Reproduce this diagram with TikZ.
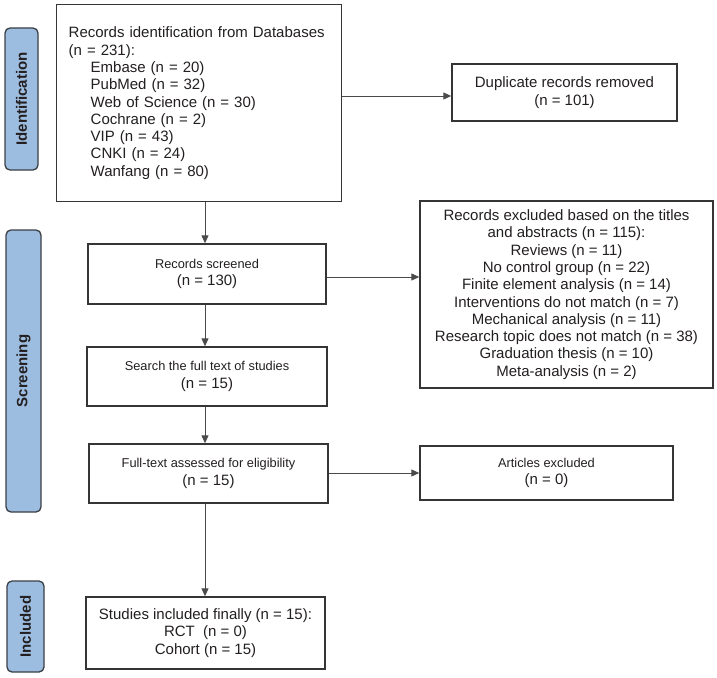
\documentclass[tikz,border=0pt]{standalone}
\usepackage{fontspec}
\setmainfont{Liberation Sans}
\usetikzlibrary{arrows.meta,calc}
\definecolor{lblfill}{HTML}{9DBDE0}
\definecolor{lbldraw}{HTML}{3A3F45}
\definecolor{boxdraw}{HTML}{353535}
\definecolor{txt}{HTML}{231F20}
\definecolor{arrcol}{HTML}{4A4A4A}
\newcommand{\smallfs}{\fontsize{12.8}{15}\selectfont}
\tikzset{
  box/.style={draw=boxdraw, line width=1.4pt, fill=white, inner sep=0pt, align=center, text=txt,
    font=\fontsize{15}{17.3}\selectfont},
  lbl/.style={draw=lbldraw, line width=1.3pt, fill=lblfill, rounded corners=5pt, rotate=90,
    inner sep=0pt, text=txt, font=\fontsize{15}{17}\selectfont\bfseries},
  arr/.style={draw=arrcol, line width=0.9pt, -{Triangle[length=8pt,width=7pt]}}
}
\begin{document}
\begin{tikzpicture}[x=1pt,y=-1pt]
\useasboundingbox (0,0) rectangle (717,677);
% phase labels
\node[lbl, minimum width=142, minimum height=33] (lid) at (21.5,99) {Identification};
\node[lbl, minimum width=282, minimum height=35] (lsc) at (23.5,371) {Screening};
\node[lbl, minimum width=91, minimum height=37] (lin) at (25.5,626.5) {Included};
% main boxes
\node[box, anchor=north west, minimum width=285, minimum height=197, text width=261, align=left, inner xsep=12pt] (ident) at (56,4)
 {Records identification from Databases\\
  (n = 231):\\
  \hspace*{22pt}Embase (n = 20)\\
  \hspace*{22pt}PubMed (n = 32)\\
  \hspace*{22pt}Web of Science (n = 30)\\
  \hspace*{22pt}Cochrane (n = 2)\\
  \hspace*{22pt}VIP (n = 43)\\
  \hspace*{22pt}CNKI (n = 24)\\
  \hspace*{22pt}Wanfang (n = 80)};
\node[box, minimum width=225, minimum height=57] (dup) at (564.5,92.5)
 {Duplicate records removed\\(n = 101)};
\node[box, minimum width=238, minimum height=60] (scr) at (207,274)
 {{\smallfs Records screened}\\(n = 130)};
\node[box, minimum width=240, minimum height=59] (full) at (207,376.5)
 {{\smallfs Search the full text of studies}\\(n = 15)};
\node[box, minimum width=239, minimum height=59] (elig) at (208.5,473.5)
 {{\smallfs Full-text assessed for eligibility}\\(n = 15)};
\node[box, minimum width=239, minimum height=72] (incl) at (205.5,633)
 {Studies included finally (n = 15):\\RCT\ \ (n = 0)\\Cohort (n = 15)};
\node[box, minimum width=293, minimum height=187] (excl) at (566.5,294.5)
 {Records excluded based on the titles\\
  and abstracts (n = 115):\\
  Reviews (n = 11)\\
  No control group (n = 22)\\
  Finite element analysis (n = 14)\\
  Interventions do not match (n = 7)\\
  Mechanical analysis (n = 11)\\
  Research topic does not match (n = 38)\\
  Graduation thesis (n = 10)\\
  Meta-analysis (n = 2)};
\node[box, minimum width=253, minimum height=54] (art) at (546.5,473)
 {{\smallfs Articles excluded}\\(n = 0)};
% connectors
\coordinate (cx) at (205,0);
\draw[arr] (ident.south -| cx) -- (scr.north -| cx);
\draw[arr] (scr.south -| cx) -- (full.north -| cx);
\draw[arr] (full.south -| cx) -- (elig.north -| cx);
\draw[arr] (elig.south -| cx) -- (incl.north -| cx);
\draw[arr] (ident.east |- 0,96) -- (dup.west |- 0,96);
\draw[arr] (scr.east |- 0,277) -- (excl.west |- 0,277);
\draw[arr] (elig.east |- 0,473) -- (art.west |- 0,473);
\end{tikzpicture}
\end{document}
